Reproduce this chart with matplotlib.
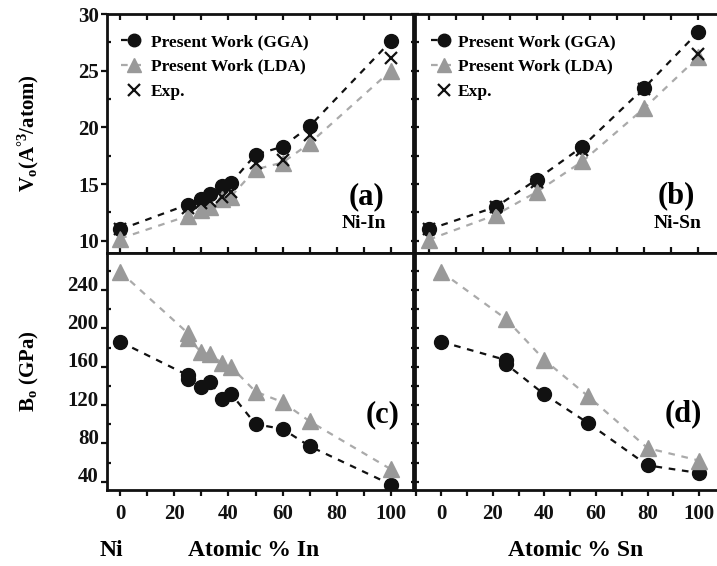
import matplotlib
matplotlib.use("Agg")
import matplotlib.pyplot as plt
from matplotlib.ticker import MultipleLocator
from matplotlib.transforms import ScaledTranslation

plt.rcParams['font.family'] = ['Liberation Serif', 'DejaVu Serif']
plt.rcParams['font.weight'] = 'bold'
plt.rcParams['mathtext.fontset'] = 'custom'
plt.rcParams['mathtext.rm'] = 'Liberation Serif:bold'
plt.rcParams['mathtext.bf'] = 'Liberation Serif:bold'
plt.rcParams['mathtext.it'] = 'Liberation Serif:bold'

# ---- data ----
x_in = [0, 25, 30, 33.3, 37.5, 40.9, 50, 60, 70, 100]
v_in_gga = [11.0, 13.2, 13.7, 14.1, 14.8, 15.1, 17.6, 18.3, 20.1, 27.6]
v_in_lda = [10.2, 12.2, 12.7, 13.0, 13.7, 13.9, 16.3, 16.9, 18.6, 25.0]
v_in_exp = [11.0, 12.9, 13.3, 13.5, 13.9, 14.3, 16.9, 17.1, 19.3, 26.1]

x_sn = [0, 25, 40, 57, 80, 100]
v_sn_gga = [11.0, 13.0, 15.4, 18.3, 23.5, 28.4]
v_sn_lda = [10.1, 12.3, 14.3, 17.0, 21.7, 26.2]
v_sn_exp = [11.0, 13.0, 15.2, 18.0, 23.4, 26.5]

x_in_b = [0, 25, 25, 30, 33.3, 37.5, 40.9, 50, 60, 70, 100]
b_in_gga = [186, 151, 147, 139, 144, 126, 132, 100, 95, 77, 37]
b_in_lda = [259, 195, 190, 175, 173, 164, 160, 134, 123, 103, 53]

x_sn_b_gga = [0, 25, 25, 40, 57, 80, 100]
b_sn_gga = [186, 167, 163, 131, 101, 57, 49]
x_sn_b_lda = [0, 25, 40, 57, 80, 100]
b_sn_lda = [259, 210, 167, 129, 75, 62]

lbl_gga = 'Present Work (GGA)'
lbl_lda = 'Present Work (LDA)'
lbl_exp = 'Exp.'

W, H = 717, 566
fig = plt.figure(figsize=(W / 100, H / 100), dpi=100)

def rect(l, t, r, b):
    return [l / W, 1 - b / H, (r - l) / W, (b - t) / H]

ax_a = fig.add_axes(rect(107, 13.5, 413, 252.7))
ax_b = fig.add_axes(rect(414.5, 13.5, 717, 252.7))
ax_c = fig.add_axes(rect(107, 252.7, 413, 490))
ax_d = fig.add_axes(rect(414.5, 252.7, 717, 490))

BLACK = '#111111'
GRAY = '#999999'
GRAYL = '#aaaaaa'

def plot_gga(ax, x, y, label=None):
    ax.plot(x, y, color=BLACK, ls=(0, (3, 3)), lw=1.6, marker='o', ms=10,
            mfc=BLACK, mec=BLACK, label=label, zorder=3)

def plot_lda(ax, x, y, label=None):
    ax.plot(x, y, color=GRAYL, ls=(0, (3, 3)), lw=1.6, marker='^', ms=11,
            mfc=GRAY, mec=GRAY, label=label, zorder=4)

def plot_exp(ax, x, y, label=None):
    ax.plot(x, y, ls='none', marker='x', ms=9, mew=1.6, color=BLACK,
            label=label, zorder=5)

plot_gga(ax_a, x_in, v_in_gga, lbl_gga)
plot_lda(ax_a, x_in, v_in_lda, lbl_lda)
plot_exp(ax_a, x_in, v_in_exp, lbl_exp)

plot_gga(ax_b, x_sn, v_sn_gga, lbl_gga)
plot_lda(ax_b, x_sn, v_sn_lda, lbl_lda)
plot_exp(ax_b, x_sn, v_sn_exp, lbl_exp)

plot_gga(ax_c, x_in_b, b_in_gga)
plot_lda(ax_c, x_in_b, b_in_lda)

plot_gga(ax_d, x_sn_b_gga, b_sn_gga)
plot_lda(ax_d, x_sn_b_lda, b_sn_lda)

ax_a.set_xlim(-4.9, 108.2)
ax_b.set_xlim(-5.3, 107.0)
ax_c.set_xlim(-4.9, 108.2)
ax_d.set_xlim(-10.4, 106.9)
for ax in (ax_a, ax_b):
    ax.set_ylim(8.95, 30.05)
for ax in (ax_c, ax_d):
    ax.set_ylim(31.3, 279)

for ax in (ax_a, ax_b, ax_c, ax_d):
    for s in ax.spines.values():
        s.set_linewidth(2.0)
        s.set_color(BLACK)
    ax.xaxis.set_major_locator(MultipleLocator(20))
    ax.xaxis.set_minor_locator(MultipleLocator(10))
    ax.tick_params(which='both', width=1.6, colors=BLACK, labelsize=15)

for ax in (ax_b, ax_d):
    ax.spines['right'].set_visible(False)

# top panels: x ticks on top & bottom, inward, no labels
for ax in (ax_a, ax_b):
    ax.tick_params(axis='x', which='both', top=True, bottom=True, direction='in',
                   labelbottom=False, length=4)
    ax.yaxis.set_major_locator(MultipleLocator(5))
    ax.yaxis.set_minor_locator(MultipleLocator(2.5))

for ax in (ax_c, ax_d):
    ax.tick_params(axis='x', which='both', top=False, bottom=True, direction='out',
                   length=4, pad=6)
    ax.yaxis.set_major_locator(MultipleLocator(40))
    ax.yaxis.set_minor_locator(MultipleLocator(20))

for ax in (ax_a, ax_c):
    ax.tick_params(axis='y', which='major', direction='out', length=4, pad=2)
    ax.tick_params(axis='y', which='minor', direction='in', length=3)
for ax in (ax_b, ax_d):
    ax.tick_params(axis='y', which='both', direction='inout', length=6,
                   labelleft=False)

# the B0 tick labels sit slightly above their ticks in the reference
shift = ScaledTranslation(0, 7 / 100, fig.dpi_scale_trans)
for lab in ax_c.get_yticklabels():
    lab.set_transform(lab.get_transform() + shift)

ax_a.set_ylabel('V$_{\\rm o}$(A$^{\\rm \\degree 3}$/atom)', fontsize=15,
                fontweight='bold')
ax_a.yaxis.set_label_coords(-0.215, 0.5)
ax_c.set_ylabel('B$_{\\rm o}$ (GPa)', fontsize=15, fontweight='bold')
ax_c.yaxis.set_label_coords(-0.215, 0.5)

fig.text(254 / W, 1 - 550 / H, 'Atomic % In', fontsize=17, fontweight='bold',
         ha='center', va='center')
fig.text(576 / W, 1 - 550 / H, 'Atomic % Sn', fontsize=17, fontweight='bold',
         ha='center', va='center')
fig.text(111 / W, 1 - 550 / H, 'Ni', fontsize=17, fontweight='bold',
         ha='center', va='center')

ax_a.text(0.849, 0.234, '(a)', transform=ax_a.transAxes, fontsize=22,
          fontweight='bold', ha='center', va='center')
ax_a.text(0.84, 0.123, 'Ni-In', transform=ax_a.transAxes, fontsize=14,
          fontweight='bold', ha='center', va='center')
ax_b.text(0.867, 0.24, '(b)', transform=ax_b.transAxes, fontsize=22,
          fontweight='bold', ha='center', va='center')
ax_b.text(0.871, 0.123, 'Ni-Sn', transform=ax_b.transAxes, fontsize=14,
          fontweight='bold', ha='center', va='center')
ax_c.text(0.902, 0.316, '(c)', transform=ax_c.transAxes, fontsize=22,
          fontweight='bold', ha='center', va='center')
ax_d.text(0.888, 0.323, '(d)', transform=ax_d.transAxes, fontsize=22,
          fontweight='bold', ha='center', va='center')

for ax, x0, pad in ((ax_a, 0.045, 0.25), (ax_b, 0.055, 0.05)):
    leg = ax.legend(loc='upper left', bbox_to_anchor=(x0, 0.915), frameon=False,
                    fontsize=12.5, handlelength=1.5, handletextpad=pad,
                    labelspacing=0.5, borderaxespad=0.0, borderpad=0.0,
                    markerscale=0.9)
    for t in leg.get_texts():
        t.set_fontweight('bold')

fig.savefig('out.png', dpi=100)
